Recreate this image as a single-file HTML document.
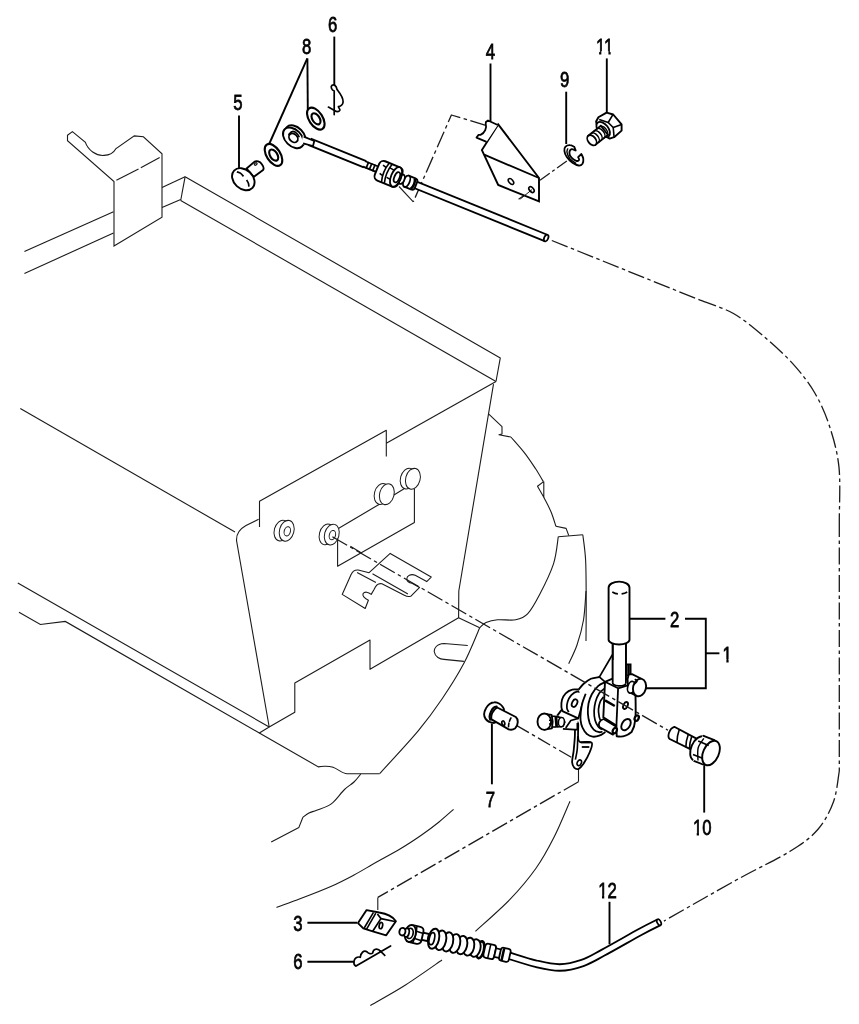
<!DOCTYPE html>
<html><head><meta charset="utf-8"><title>Parts diagram</title>
<style>html,body{margin:0;padding:0;background:#fff}body{width:859px;height:1024px;overflow:hidden;font-family:"Liberation Sans",sans-serif}svg{will-change:transform}svg text{font-family:"Liberation Sans",sans-serif;stroke:#000;stroke-width:0.75px}</style></head>
<body>
<svg width="859" height="1024" viewBox="0 0 859 1024" style="display:block;font-family:'Liberation Sans',sans-serif" fill="#000">
<path d="M67.5,135.2 L72.4,131.6 L85.4,142.4 C88,150 96,156 104,155.4 C110,155 114,152 115.7,148.9 L134.3,135.9 L143.4,136.8 L162,153.8 L162,217.3 L114,246 L114,181.5 L67.5,140.7 Z" fill="none" stroke="#1a1a1a" stroke-width="1.1"/>
<path d="M116.4,180.2 L138.5,169.1" fill="none" stroke="#1a1a1a" stroke-width="1.1" stroke-linecap="butt" stroke-linejoin="round"/>
<path d="M140.8,167.8 L159.7,157.4" fill="none" stroke="#1a1a1a" stroke-width="1.1" stroke-linecap="butt" stroke-linejoin="round"/>
<path d="M24.4,251.5 L113.5,211.8" fill="none" stroke="#1a1a1a" stroke-width="1.1" stroke-linecap="butt" stroke-linejoin="round"/>
<path d="M24.4,273.5 L113.5,233" fill="none" stroke="#1a1a1a" stroke-width="1.1" stroke-linecap="butt" stroke-linejoin="round"/>
<path d="M162,187.4 L185.1,176.7" fill="none" stroke="#1a1a1a" stroke-width="1.1" stroke-linecap="butt" stroke-linejoin="round"/>
<path d="M162,207.6 L180.7,199.6" fill="none" stroke="#1a1a1a" stroke-width="1.1" stroke-linecap="butt" stroke-linejoin="round"/>
<path d="M185.1,176.7 L180.7,200.5" fill="none" stroke="#1a1a1a" stroke-width="1.1" stroke-linecap="butt" stroke-linejoin="round"/>
<path d="M185.1,176.7 L500.3,357.9 L496,381.5" fill="none" stroke="#1a1a1a" stroke-width="1.1" stroke-linecap="butt" stroke-linejoin="round"/>
<path d="M180.7,200.5 L496,381.5" fill="none" stroke="#1a1a1a" stroke-width="1.1" stroke-linecap="butt" stroke-linejoin="round"/>
<path d="M496,381.5 L386.3,443.3" fill="none" stroke="#1a1a1a" stroke-width="1.1" stroke-linecap="butt" stroke-linejoin="round"/>
<path d="M386.3,456.5 L386.3,430.3 L259.5,501.3 L259.5,527" fill="none" stroke="#1a1a1a" stroke-width="1.1" stroke-linecap="butt" stroke-linejoin="round"/>
<path d="M20.3,408.6 L235,532" fill="none" stroke="#1a1a1a" stroke-width="1.1" stroke-linecap="butt" stroke-linejoin="round"/>
<path d="M258.6,519.2 L246,525.6 C239,529.5 236,534 236.6,541 L269.2,727" fill="none" stroke="#1a1a1a" stroke-width="1.1"/>
<path d="M493.5,384.2 L458.8,591 L458.6,618" fill="none" stroke="#1a1a1a" stroke-width="1.1" stroke-linecap="butt" stroke-linejoin="round"/>
<path d="M458.6,617.8 L370,669.3 L370,640 L294.8,683 L294.8,712.3 L269.2,727" fill="none" stroke="#1a1a1a" stroke-width="1.1" stroke-linecap="butt" stroke-linejoin="round"/>
<path d="M17.8,583 L269.2,727 L259.3,733" fill="none" stroke="#1a1a1a" stroke-width="1.1" stroke-linecap="butt" stroke-linejoin="round"/>
<path d="M19,612.3 L40.4,624.5 L65.3,621.4 L259.3,733 L318.4,766.9 C322,765.8 329,766 333,767.3 C338,769 342.5,773.7 347,773.7 L379.6,773.7" fill="none" stroke="#1a1a1a" stroke-width="1.1"/>
<path d="M379.6,773.7 C386.1,766.5 408,743.1 418.4,730.6 C428.8,718.1 434.4,710.2 442,699 C449.6,687.8 457.6,675.2 463.9,663.3 C470.2,651.4 477.1,633.6 479.7,627.7" fill="none" stroke="#1a1a1a" stroke-width="1.1" stroke-linecap="butt" stroke-linejoin="round"/>
<path d="M458.6,617.8 L479.7,627.7" fill="none" stroke="#1a1a1a" stroke-width="1.1" stroke-linecap="butt" stroke-linejoin="round"/>
<path d="M479.7,627.7 C480.8,626.8 483,623.8 486,622.5 C489,621.2 492.6,620.2 497.5,619.8 C502.4,619.3 510.7,620.8 515.7,619.8 C520.8,618.8 523.8,618 527.8,613.7 C531.8,609.4 535.6,602.3 539.9,594 C544.2,585.7 550.4,573.3 553.5,563.8 C556.6,554.2 557.5,541.2 558.3,536.7" fill="none" stroke="#1a1a1a" stroke-width="1.1" stroke-linecap="butt" stroke-linejoin="round"/>
<path d="M467.8,645.5 L444,643.5 C436,644 434,649 434.2,651.5 C435,657 440,659.4 444,659.4 L463.9,661.4" fill="none" stroke="#1a1a1a" stroke-width="1.1"/>
<path d="M271.2,842 L298.9,827.4 L302.9,817.3" fill="none" stroke="#1a1a1a" stroke-width="1.1" stroke-linecap="butt" stroke-linejoin="round"/>
<path d="M302.9,817.3 C303.9,816.6 306.7,814.2 309,813 C311.3,811.8 313,811.7 316.7,810.2 C320.4,808.7 326.7,807.4 331.3,803.9 C335.9,800.4 340.7,793.1 344.5,789.5 C348.3,785.9 351.3,784.6 354,782 C356.7,779.4 359.7,775.3 360.8,774" fill="none" stroke="#1a1a1a" stroke-width="1.1" stroke-linecap="butt" stroke-linejoin="round"/>
<path d="M488.8,414.1 L502,426.6 L502,434.1 L498.9,434.7 L510.9,437" fill="none" stroke="#1a1a1a" stroke-width="1.1" stroke-linecap="butt" stroke-linejoin="round"/>
<path d="M510.9,437 C513.2,439.7 520.6,447.8 524.7,453.1 C528.8,458.4 532.5,464.1 535.6,468.8 C538.7,473.6 542.1,479.5 543.4,481.6" fill="none" stroke="#1a1a1a" stroke-width="1.1" stroke-linecap="butt" stroke-linejoin="round"/>
<path d="M543.6,481.6 L537.5,486.3 L543.8,497.2 L543.8,481.6" fill="none" stroke="#1a1a1a" stroke-width="1.1" stroke-linecap="butt" stroke-linejoin="round"/>
<path d="M543.8,497.2 C545,499.8 549.3,507.6 551.3,512.5 C553.3,517.4 555.1,524 555.9,526.3" fill="none" stroke="#1a1a1a" stroke-width="1.1" stroke-linecap="butt" stroke-linejoin="round"/>
<path d="M555.9,526.3 L566.1,528.4 L568.8,535.6" fill="none" stroke="#1a1a1a" stroke-width="1.1" stroke-linecap="butt" stroke-linejoin="round"/>
<path d="M558.3,536.7 L582.8,534.7" fill="none" stroke="#1a1a1a" stroke-width="1.1" stroke-linecap="butt" stroke-linejoin="round"/>
<path d="M582.8,534.7 C583.3,538.9 585,549.1 585.6,560 C586.2,570.9 586.1,586.5 586.2,600 C586.3,613.5 586,634.2 586,641" fill="none" stroke="#1a1a1a" stroke-width="1.1" stroke-linecap="butt" stroke-linejoin="round"/>
<path d="M586,591 C585.6,595.8 585,611 583.5,620 C582,629 579.5,637.7 577,645 C574.5,652.3 570.1,660.6 568.7,663.7" fill="none" stroke="#1a1a1a" stroke-width="1.1" stroke-linecap="butt" stroke-linejoin="round"/>
<path d="M276.5,907.5 C280.4,906 290.9,902.3 300,898.8 C309.1,895.3 321.8,890.5 330.8,886.5 C339.8,882.5 346.4,879 354,875 C361.6,871 368.5,866.6 376.2,862.3 C383.9,858 392.4,853.5 400,849 C407.6,844.5 415.1,839.5 421.6,835 C428.1,830.5 433.7,826.3 439,822 C444.3,817.7 451.2,811.4 453.6,809.3" fill="none" stroke="#1a1a1a" stroke-width="1.1" stroke-linecap="butt" stroke-linejoin="round"/>
<path d="M370.3,1005.5 C376.2,1002.1 393.6,992.6 405.5,985 C417.4,977.4 435.9,964.2 442,960" fill="none" stroke="#1a1a1a" stroke-width="1.1" stroke-linecap="butt" stroke-linejoin="round"/>
<path d="M475.4,931.4 C481.2,926 500.1,909.7 510.2,899.2 C520.3,888.7 528.7,878.6 536,868.3 C543.3,858 548.3,848.5 554,837.3 C559.7,826.1 567.3,807.2 570,801.2" fill="none" stroke="#1a1a1a" stroke-width="1.1" stroke-linecap="butt" stroke-linejoin="round"/>
<path d="M342.2,594.4 L351.1,574.6 C352.4,571.4 355,569.7 358.2,570 L369.1,572.7 L390.2,553.4 L431.2,577.1 L426.7,581.6 L415.2,575.2 C410.7,573.6 406.8,575.9 406.8,579.1 C407.1,581.6 410,582.9 412,583.3 L419.6,587.4 L410.7,596.3 C408.1,597 406.2,596.3 404.3,595.3 L381.9,583.8 C378,582.9 375.5,586.1 374.2,589.3 L371.2,594.4 C368.4,591.9 364.6,591.2 363,593.8 C362.3,596.3 363.9,597.9 368.4,600.2 L365.2,608.5 Z" fill="none" stroke="#1a1a1a" stroke-width="1.1" stroke-linejoin="round" stroke-linecap="round"/>
<path d="M357.5,572.7 L375.5,582.3" fill="none" stroke="#1a1a1a" stroke-width="1.1" stroke-linejoin="round" stroke-linecap="round"/>
<path d="M372.9,573.9 L407.5,593.8" fill="none" stroke="#1a1a1a" stroke-width="1.1" stroke-linejoin="round" stroke-linecap="round"/>
<ellipse cx="281.5" cy="530.6" rx="7.2" ry="10.6" transform="rotate(15 281.5 530.6)" fill="#fff" stroke="#1a1a1a" stroke-width="1"/>
<ellipse cx="286.7" cy="530.8" rx="7.2" ry="10.6" transform="rotate(15 286.7 530.8)" fill="#fff" stroke="#1a1a1a" stroke-width="1"/>
<ellipse cx="287.3" cy="531.3" rx="3.1" ry="4.7" transform="rotate(15 287.3 531.3)" fill="none" stroke="#1a1a1a" stroke-width="1"/>
<ellipse cx="326.6" cy="534.4" rx="7.2" ry="10.6" transform="rotate(15 326.6 534.4)" fill="#fff" stroke="#1a1a1a" stroke-width="1"/>
<ellipse cx="331.8" cy="534.6" rx="7.2" ry="10.6" transform="rotate(15 331.8 534.6)" fill="#fff" stroke="#1a1a1a" stroke-width="1"/>
<ellipse cx="332.4" cy="535.1" rx="3.1" ry="4.7" transform="rotate(15 332.4 535.1)" fill="none" stroke="#1a1a1a" stroke-width="1"/>
<path d="M338.8,528.3 L379.8,504" fill="none" stroke="#1a1a1a" stroke-width="1.1" stroke-linecap="butt" stroke-linejoin="round"/>
<path d="M393.9,495 L404.1,488.7" fill="none" stroke="#1a1a1a" stroke-width="1.1" stroke-linecap="butt" stroke-linejoin="round"/>
<path d="M414.4,488.7 L414.4,522.5 L337.6,566.2 L337.6,538.6" fill="none" stroke="#1a1a1a" stroke-width="1.1" stroke-linecap="butt" stroke-linejoin="round"/>
<path d="M350.4,546.3 L361.9,553.2" fill="none" stroke="#1a1a1a" stroke-width="1.1" stroke-linecap="butt" stroke-linejoin="round"/>
<ellipse cx="381.6" cy="494" rx="7.2" ry="10.6" transform="rotate(15 381.6 494)" fill="#fff" stroke="#1a1a1a" stroke-width="1"/>
<ellipse cx="386.8" cy="494.2" rx="7.2" ry="10.6" transform="rotate(15 386.8 494.2)" fill="#fff" stroke="#1a1a1a" stroke-width="1"/>
<ellipse cx="407.7" cy="478.6" rx="7.2" ry="10.6" transform="rotate(15 407.7 478.6)" fill="#fff" stroke="#1a1a1a" stroke-width="1"/>
<ellipse cx="412.9" cy="478.8" rx="7.2" ry="10.6" transform="rotate(15 412.9 478.8)" fill="#fff" stroke="#1a1a1a" stroke-width="1"/>
<path d="M551.8,240.5 L700,300.1" fill="none" stroke="#1a1a1a" stroke-width="1.3" stroke-dasharray="17 3.5 3.5 3.5" stroke-linecap="butt" stroke-linejoin="round"/>
<path d="M700,300.1 C705.5,302.3 722.5,307.4 733,313.3 C743.5,319.2 752.9,327.1 762.8,335.5 C772.7,343.9 783.8,353.8 792.5,363.4 C801.2,373 808.6,382.5 814.8,393 C821,403.5 825.6,414.1 829.6,426.5 C833.6,438.9 837.4,451.8 839,467.4 C840.6,483 839.2,511.2 839.3,520" fill="none" stroke="#1a1a1a" stroke-width="1.3" stroke-dasharray="17 3.5 3.5 3.5" stroke-linecap="butt" stroke-linejoin="round"/>
<path d="M839.3,520 L839.3,771" fill="none" stroke="#1a1a1a" stroke-width="1.3" stroke-dasharray="17 3.5 3.5 3.5" stroke-linecap="butt" stroke-linejoin="round"/>
<path d="M839.3,771 C838.3,776.2 837,792.2 833.4,802 C829.8,811.8 824.9,821.3 817.8,829.5 C810.6,837.7 804.2,842.5 790.5,851 C776.8,859.5 756.9,868.6 735.8,880.3 C714.7,892 675.9,914.3 663.9,921.1" fill="none" stroke="#1a1a1a" stroke-width="1.3" stroke-dasharray="17 3.5 3.5 3.5" stroke-linecap="butt" stroke-linejoin="round"/>
<path d="M486.6,125.6 L451.4,115 L413.3,201.8" fill="none" stroke="#1a1a1a" stroke-width="1.3" stroke-dasharray="17 3.5 3.5 3.5" stroke-linecap="butt" stroke-linejoin="round"/>
<path d="M413.3,201.8 L399,186.5" fill="none" stroke="#1a1a1a" stroke-width="1.1" stroke-linecap="butt" stroke-linejoin="round"/>
<path d="M540,180.3 L566.9,161" fill="none" stroke="#1a1a1a" stroke-width="1.3" stroke-dasharray="12 3 3 3" stroke-linecap="butt" stroke-linejoin="round"/>
<path d="M516.8,725.6 L573.4,758.5" fill="none" stroke="#1a1a1a" stroke-width="1.3" stroke-dasharray="14 3.5 3.5 3.5" stroke-linecap="butt" stroke-linejoin="round"/>
<path d="M578.5,768 L578.5,781.7" fill="none" stroke="#1a1a1a" stroke-width="1.1" stroke-linecap="butt" stroke-linejoin="round"/>
<path d="M578.5,781.7 L377.8,897.4" fill="none" stroke="#1a1a1a" stroke-width="1.3" stroke-dasharray="17 3.5 3.5 3.5" stroke-linecap="butt" stroke-linejoin="round"/>
<path d="M377.8,897.4 L377.8,910" fill="none" stroke="#1a1a1a" stroke-width="1.1" stroke-linecap="butt" stroke-linejoin="round"/>
<path d="M531.4,190.3 L518.6,199.3" fill="none" stroke="#1a1a1a" stroke-width="1.1" stroke-linecap="butt" stroke-linejoin="round"/>
<path d="M307.4,58.4 L307.8,109" fill="none" stroke="#000" stroke-width="1.9" stroke-linecap="butt" stroke-linejoin="miter"/>
<path d="M307.3,58.4 L269.4,143.5" fill="none" stroke="#000" stroke-width="1.9" stroke-linecap="butt" stroke-linejoin="miter"/>
<path d="M239,115.5 L239,168" fill="none" stroke="#000" stroke-width="1.9" stroke-linecap="butt" stroke-linejoin="miter"/>
<path d="M334.3,36.6 L334.3,85" fill="none" stroke="#000" stroke-width="1.9" stroke-linecap="butt" stroke-linejoin="miter"/>
<path d="M490.5,63.5 L490.5,121.4" fill="none" stroke="#000" stroke-width="1.9" stroke-linecap="butt" stroke-linejoin="miter"/>
<path d="M566.2,91.7 L566.2,144" fill="none" stroke="#000" stroke-width="1.9" stroke-linecap="butt" stroke-linejoin="miter"/>
<path d="M606.8,58.4 L606.8,112.5" fill="none" stroke="#000" stroke-width="1.9" stroke-linecap="butt" stroke-linejoin="miter"/>
<path d="M630,618.8 L665.4,618.8" fill="none" stroke="#000" stroke-width="1.9" stroke-linecap="butt" stroke-linejoin="miter"/>
<path d="M685,618.8 L705.8,618.8 L705.8,688.3 L645.9,688.3" fill="none" stroke="#000" stroke-width="1.9" stroke-linecap="butt" stroke-linejoin="miter"/>
<path d="M705.8,653.3 L719.4,653.3" fill="none" stroke="#000" stroke-width="1.9" stroke-linecap="butt" stroke-linejoin="miter"/>
<path d="M704.2,765.8 L704.2,812.6" fill="none" stroke="#000" stroke-width="1.9" stroke-linecap="butt" stroke-linejoin="miter"/>
<path d="M491.9,723.5 L491.9,784.3" fill="none" stroke="#000" stroke-width="1.9" stroke-linecap="butt" stroke-linejoin="miter"/>
<path d="M609.5,901.8 L609.5,944.3" fill="none" stroke="#000" stroke-width="1.9" stroke-linecap="butt" stroke-linejoin="miter"/>
<path d="M307.4,922.8 L357,922.8" fill="none" stroke="#000" stroke-width="1.9" stroke-linecap="butt" stroke-linejoin="miter"/>
<path d="M307.4,961.7 L354.3,961.7" fill="none" stroke="#000" stroke-width="1.9" stroke-linecap="butt" stroke-linejoin="miter"/>
<text transform="translate(306.6 53.5) scale(0.755 1)" text-anchor="middle" font-size="22.2">8</text>
<text transform="translate(332.7 32.3) scale(0.755 1)" text-anchor="middle" font-size="22.2">6</text>
<text transform="translate(238 110) scale(0.755 1)" text-anchor="middle" font-size="22.2">5</text>
<text transform="translate(490.4 58.9) scale(0.755 1)" text-anchor="middle" font-size="22.2">4</text>
<text transform="translate(564.7 86.6) scale(0.755 1)" text-anchor="middle" font-size="22.2">9</text>
<text transform="translate(604.6 53.8) scale(0.755 1)" text-anchor="middle" font-size="22.2">11</text>
<rect x="595.42" y="51.14" width="3.69" height="4.46" fill="#fff"/>
<rect x="601.35" y="51.14" width="3.56" height="4.46" fill="#fff"/>
<rect x="604.74" y="51.14" width="3.69" height="4.46" fill="#fff"/>
<rect x="610.67" y="51.14" width="3.56" height="4.46" fill="#fff"/>
<text transform="translate(674.6 626.5) scale(0.755 1)" text-anchor="middle" font-size="22.2">2</text>
<text transform="translate(727.2 661.8) scale(0.755 1)" text-anchor="middle" font-size="22.2">1</text>
<rect x="722.68" y="659.14" width="3.69" height="4.46" fill="#fff"/>
<rect x="728.61" y="659.14" width="3.56" height="4.46" fill="#fff"/>
<text transform="translate(702.2 835.2) scale(0.755 1)" text-anchor="middle" font-size="22.2">10</text>
<rect x="693.02" y="832.54" width="3.69" height="4.46" fill="#fff"/>
<rect x="698.95" y="832.54" width="3.56" height="4.46" fill="#fff"/>
<text transform="translate(490.3 807) scale(0.755 1)" text-anchor="middle" font-size="22.2">7</text>
<text transform="translate(607.5 898) scale(0.755 1)" text-anchor="middle" font-size="22.2">12</text>
<rect x="598.32" y="895.34" width="3.69" height="4.46" fill="#fff"/>
<rect x="604.25" y="895.34" width="3.56" height="4.46" fill="#fff"/>
<text transform="translate(298 930.9) scale(0.755 1)" text-anchor="middle" font-size="22.2">3</text>
<text transform="translate(298 969.2) scale(0.755 1)" text-anchor="middle" font-size="22.2">6</text>
<ellipse cx="273.5" cy="154.9" rx="12.3" ry="6.8" transform="rotate(57 273.5 154.9)" fill="#fff" stroke="#000" stroke-width="2.1"/>
<ellipse cx="273.7" cy="155.1" rx="6.2" ry="3.6" transform="rotate(57 273.7 155.1)" fill="none" stroke="#000" stroke-width="2.1"/>
<ellipse cx="315.8" cy="118.6" rx="12.3" ry="6.8" transform="rotate(57 315.8 118.6)" fill="#fff" stroke="#000" stroke-width="2.1"/>
<ellipse cx="316" cy="118.8" rx="6.2" ry="3.6" transform="rotate(57 316 118.8)" fill="none" stroke="#000" stroke-width="2.1"/>
<g transform="translate(340 154.1) rotate(22.15)">
<line x1="-33" y1="0" x2="27" y2="0" stroke="#000" stroke-width="8.6"/>
<line x1="-33.5" y1="0" x2="27" y2="0" stroke="#fff" stroke-width="5"/>
<line x1="26" y1="0" x2="42" y2="0" stroke="#000" stroke-width="7.5"/>
<line x1="25.5" y1="0" x2="42" y2="0" stroke="#fff" stroke-width="4.1"/>
<line x1="29.5" y1="-3.6" x2="29.5" y2="3.6" stroke="#000" stroke-width="1.7"/>
<line x1="33" y1="-3.6" x2="33" y2="3.6" stroke="#000" stroke-width="1.7"/>
<line x1="36.5" y1="-3.6" x2="36.5" y2="3.6" stroke="#000" stroke-width="1.7"/>
<line x1="40" y1="-3.6" x2="40" y2="3.6" stroke="#000" stroke-width="1.7"/>
<line x1="80" y1="0" x2="223" y2="0" stroke="#000" stroke-width="8.7"/>
<line x1="79.5" y1="0" x2="223" y2="0" stroke="#fff" stroke-width="5.1"/>
<ellipse cx="222.6" cy="0" rx="2" ry="3.5" fill="#fff" stroke="#000" stroke-width="1.8"/>
<rect x="70" y="-6" width="12" height="12" rx="3" fill="#fff" stroke="#000" stroke-width="1.9"/>
<path d="M78.5,-5.5 C80.5,-3 80.5,3 78.5,5.5" fill="none" stroke="#000" stroke-width="2.6"/>
<ellipse cx="72" cy="0" rx="3" ry="6" fill="#fff" stroke="#000" stroke-width="1.8"/>
<ellipse cx="66.5" cy="0" rx="2.8" ry="5" fill="#fff" stroke="#000" stroke-width="1.8"/>
<rect x="40" y="-10.4" width="25" height="20.8" rx="4.5" fill="#fff" stroke="#000" stroke-width="1.9"/>
<ellipse cx="60.5" cy="0" rx="5" ry="10.4" fill="#fff" stroke="#000" stroke-width="1.8"/>
<ellipse cx="61.5" cy="0" rx="2.6" ry="5.4" fill="#fff" stroke="#000" stroke-width="1.8"/>
<path d="M49,-10.4 C47,-4 47,4 49,10.4 M52,-10 C50.3,-4 50.3,4 52,10 M44,-6 L48,-5 M44,3 L48,4 M52,-6 L56,-5.5 M52,4 L56,4.5" fill="none" stroke="#000" stroke-width="1.6"/>
</g>
<ellipse cx="295.4" cy="135.7" rx="12.2" ry="8.1" transform="rotate(45 295.4 135.7)" fill="#fff" stroke="#000" stroke-width="1.9"/>
<ellipse cx="293.3" cy="137.9" rx="12.2" ry="8.1" transform="rotate(45 293.3 137.9)" fill="#fff" stroke="#000" stroke-width="1.9"/>
<ellipse cx="293.4" cy="137.9" rx="5" ry="3.8" transform="rotate(45 293.4 137.9)" fill="none" stroke="#000" stroke-width="1.8"/>
<path d="M288.4,134.9 C289.1,134.3 291.1,131.6 292.5,131.4 C293.9,131.1 295.9,132.6 297,133.6 C298.2,134.6 299,136.7 299.4,137.3" fill="none" stroke="#000" stroke-width="1.6" stroke-linecap="butt" stroke-linejoin="round"/>
<path d="M302.7,136.1 L314.3,140.8 L313,146 L301.5,144.1 Z" fill="#fff" stroke="none"/>
<path d="M303.7,136.7 L314.3,141 L313,146 L303.1,143.3" fill="none" stroke="#000" stroke-width="1.8" stroke-linecap="butt" stroke-linejoin="round"/>
<path d="M246.6,168.5 L254.3,161.9 C256.4,160.3 259.9,161.4 261.7,164 C263.5,166.4 264.1,168.5 263.1,169.9 L253.6,176.9 Z" fill="#fff" stroke="#000" stroke-width="1.9" stroke-linejoin="round"/>
<ellipse cx="255.7" cy="164" rx="1.5" ry="1" transform="rotate(-40 255.7 164)" fill="none" stroke="#1a1a1a" stroke-width="1.2"/>
<ellipse cx="243.3" cy="179.2" rx="12.6" ry="9.5" transform="rotate(43 243.3 179.2)" fill="#fff" stroke="#000" stroke-width="1.9"/>
<path d="M236.9,171.8 C237.5,172.1 239.6,172.6 240.7,173.4 C241.8,174.2 243,175.9 243.5,176.4" fill="none" stroke="#000" stroke-width="1.7" stroke-linecap="butt" stroke-linejoin="round"/>
<path d="M246.6,180 C246.9,180.6 248,182.1 248.4,183.2 C248.8,184.3 248.8,186.1 248.9,186.7" fill="none" stroke="#000" stroke-width="1.7" stroke-linecap="butt" stroke-linejoin="round"/>
<path d="M334.2,114.6 L334.2,91.1 C331.6,89.9 330.2,86.6 332.1,85.2 C334,84.1 336.3,85.7 337,89.4 C339.6,92.7 343.3,96.9 343.1,102 C342.8,104.8 340.5,106.2 338.4,106.7 C338.6,108.5 340.5,109 339.8,110.4 C338.6,112.3 335.8,111.3 334,110.2 L328.4,107.1" fill="none" stroke="#000" stroke-width="1.7" stroke-linejoin="round" stroke-linecap="round"/>
<path d="M498.2,124.4 L539,178 L539,201.3 L498.2,185 L481.9,150.1 Z" fill="#fff" stroke="#000" stroke-width="1.9" stroke-linecap="butt" stroke-linejoin="miter"/>
<path d="M484.2,154.7 L539,178" fill="none" stroke="#000" stroke-width="1.8" stroke-linecap="butt" stroke-linejoin="round"/>
<path d="M497.8,125 L488,120.5 L485.9,122 L485.7,124 C487,127.5 484.9,133 480.5,134.8 L478.6,134.8 L476.5,137.6 L486.6,141.8" fill="#fff" stroke="#000" stroke-width="1.8" stroke-linejoin="round"/>
<path d="M532,189.6 L520.3,199" fill="none" stroke="#1a1a1a" stroke-width="1" stroke-linecap="butt" stroke-linejoin="round"/>
<ellipse cx="511" cy="181.5" rx="2" ry="3.4" transform="rotate(-40 511 181.5)" fill="none" stroke="#000" stroke-width="1.6"/>
<ellipse cx="531.5" cy="189.6" rx="2" ry="3.4" transform="rotate(-40 531.5 189.6)" fill="none" stroke="#000" stroke-width="1.6"/>
<path d="M574.3,146.8 C573.6,146.5 571.4,145.1 569.9,145.1 C568.4,145 566.4,145.7 565.5,146.6 C564.6,147.6 564.1,149.1 564.4,150.8 C564.6,152.6 565.4,155.1 566.8,157.1 C568.1,159.1 570.5,161.3 572.5,162.7 C574.5,164.1 577.2,165.3 578.8,165.5 C580.5,165.7 581.7,164.8 582.5,163.7 C583.2,162.6 583.5,160.3 583.3,158.7 C583.1,157.1 581.7,154.7 581.4,154 L578.1,157.1 C578.3,157.6 579.4,159.3 579.1,159.9 C578.8,160.5 577.5,161.2 576.2,160.8 C574.9,160.4 572.6,158.9 571.5,157.6 C570.3,156.3 569.4,154.3 569.4,152.9 C569.4,151.5 570.4,149.6 571.5,149.2 C572.5,148.8 575,150.3 575.7,150.5 Z" fill="#fff" stroke="#000" stroke-width="1.8" stroke-linejoin="round"/>
<path d="M567.8,148.4 C567.7,149.1 566.6,150.7 567,152.4 C567.3,154.1 568.4,156.8 569.9,158.7 C571.4,160.5 575.1,162.8 576.2,163.6" fill="none" stroke="#000" stroke-width="1.4" stroke-linecap="butt" stroke-linejoin="round"/>
<path d="M598.4,117.3 L606.6,112.6 L613.2,114.5 L621.6,124.4 L621.6,130.6 L614.1,137.2 L609.7,138.6 L605.5,136.1 L597.2,126.7 L596.1,121.5 Z" fill="#fff" stroke="#000" stroke-width="1.9" stroke-linecap="butt" stroke-linejoin="round"/>
<path d="M599.2,119.4 L608.2,122.5 L612.9,114.7" fill="none" stroke="#000" stroke-width="1.6" stroke-linecap="butt" stroke-linejoin="round"/>
<path d="M608.2,122.5 L613.2,127.5 L621.6,124.4" fill="none" stroke="#000" stroke-width="1.6" stroke-linecap="butt" stroke-linejoin="round"/>
<path d="M613.2,127.5 L614.1,137.2" fill="none" stroke="#000" stroke-width="1.6" stroke-linecap="butt" stroke-linejoin="round"/>
<ellipse cx="603.2" cy="129.5" rx="5.2" ry="8.8" transform="rotate(-38 603.2 129.5)" fill="#fff" stroke="#000" stroke-width="1.8"/>
<g transform="translate(591.9 140.3) rotate(-38.5)">
<rect x="0" y="-5.8" width="16" height="11.6" fill="#fff" stroke="#000" stroke-width="1.8"/>
<path d="M3.6,-5.8 A3.6 5.8 0 0 1 3.6,5.8" fill="none" stroke="#000" stroke-width="1.5"/>
<path d="M7.2,-5.8 A3.6 5.8 0 0 1 7.2,5.8" fill="none" stroke="#000" stroke-width="1.5"/>
<path d="M10.8,-5.8 A3.6 5.8 0 0 1 10.8,5.8" fill="none" stroke="#000" stroke-width="1.5"/>
<path d="M14.4,-5.8 A3.6 5.8 0 0 1 14.4,5.8" fill="none" stroke="#000" stroke-width="1.5"/>
<ellipse cx="0" cy="0" rx="3.8" ry="5.8" fill="#fff" stroke="#000" stroke-width="1.8"/>
</g>
<path d="M608.6,587.7 L608.6,639.8 A10.45 4.7 0 0 0 629.5,639.8 L629.5,587.7 A10.45 6.1 0 0 0 608.6,587.7 Z" fill="#fff" stroke="#000" stroke-width="1.9"/>
<path d="M612.3,592 Q615,593.7 617.9,593.9 M621.6,593.9 Q625,593.5 627.2,592" fill="none" stroke="#000" stroke-width="1.6"/>
<path d="M612.7,644 L612.7,684" fill="none" stroke="#000" stroke-width="1.8" stroke-linecap="butt" stroke-linejoin="round"/>
<path d="M625.9,644 L625.9,686" fill="none" stroke="#000" stroke-width="1.8" stroke-linecap="butt" stroke-linejoin="round"/>
<path d="M612.4,654.7 L599.3,677.1" fill="none" stroke="#000" stroke-width="1.7" stroke-linecap="butt" stroke-linejoin="round"/>
<path d="M575.4,723.3 C574.8,725.7 575.1,733 574.8,737.6 C574.5,742.3 574,747.2 573.6,751.3 C573.1,755.3 572,759.1 572.1,761.9 C572.2,764.6 573.1,766.4 574.2,767.6 C575.3,768.8 577.2,769.4 578.7,768.8 C580.2,768.2 581.4,766.9 583.3,764.1 C585.1,761.3 588.4,755.6 589.8,752 C591.2,748.4 593.2,744.2 591.6,742.5 C590,740.8 582.2,742.9 579.9,741.9 C577.7,740.8 578.4,739.2 578.1,736.1 C577.8,733 578.6,725.4 578.1,723.3 C577.7,721.1 576,720.9 575.4,723.3 Z" fill="#fff" stroke="#000" stroke-width="1.8" stroke-linejoin="round"/>
<path d="M577.8,736.1 C577.7,738.4 577.6,745.8 577.2,749.7 C576.8,753.7 575.7,757.9 575.4,759.6" fill="none" stroke="#000" stroke-width="1.6" stroke-linecap="butt" stroke-linejoin="round"/>
<path d="M580.7,742.5 L590.8,742.5" fill="none" stroke="#000" stroke-width="1.8" stroke-linecap="butt" stroke-linejoin="round"/>
<path d="M581.8,747 L589.3,747" fill="none" stroke="#000" stroke-width="1.8" stroke-linecap="butt" stroke-linejoin="round"/>
<ellipse cx="579.3" cy="762.8" rx="2" ry="3" transform="rotate(25 579.3 762.8)" fill="none" stroke="#000" stroke-width="1.6"/>
<path d="M562.2,709.1 L557.3,715.6 L562.9,728.8 L574.6,729.6 L577.4,729.6 L577.4,723.1 L578.3,718.4 L568.5,711.9 Z" fill="#fff" stroke="none"/>
<path d="M562.2,709.1 L557.3,715.6" fill="none" stroke="#000" stroke-width="1.8" stroke-linecap="butt" stroke-linejoin="round"/>
<path d="M562.9,728.8 L574.6,729.6 L577.4,729.6 L577.4,723.1" fill="none" stroke="#000" stroke-width="1.8" stroke-linecap="butt" stroke-linejoin="round"/>
<path d="M568.5,711.9 L578.3,718.4" fill="none" stroke="#000" stroke-width="1.8" stroke-linecap="butt" stroke-linejoin="round"/>
<path d="M578.3,718.4 L570.8,720.5 L565.7,727.9" fill="none" stroke="#000" stroke-width="1.7" stroke-linecap="butt" stroke-linejoin="round"/>
<path d="M556.4,716.4 L562.9,718.4 L564.8,722.1 L562.9,726.3 L556.9,727 Z" fill="#fff" stroke="#000" stroke-width="1.7" stroke-linejoin="round"/>
<ellipse cx="561.4" cy="722.1" rx="3" ry="4.6" transform="rotate(5 561.4 722.1)" fill="#fff" stroke="#000" stroke-width="1.6"/>
<path d="M555.7,716.1 L556.6,727" fill="none" stroke="#000" stroke-width="2.6" stroke-linecap="butt" stroke-linejoin="round"/>
<path d="M551.8,716.3 L555.7,716.3" fill="none" stroke="#000" stroke-width="1.6" stroke-linecap="butt" stroke-linejoin="round"/>
<path d="M552.1,727 L556.4,727" fill="none" stroke="#000" stroke-width="1.6" stroke-linecap="butt" stroke-linejoin="round"/>
<path d="M544.3,713.8 L551.6,714.9 L552.7,721.7 L551.9,728.4 L544.3,729.6 Z" fill="#fff" stroke="#000" stroke-width="1.8" stroke-linejoin="round"/>
<ellipse cx="544.3" cy="721.7" rx="6.8" ry="8.2" transform="rotate(0 544.3 721.7)" fill="#fff" stroke="#000" stroke-width="1.9"/>
<path d="M549,720.3 L552.2,720.3" fill="none" stroke="#000" stroke-width="1.5" stroke-linecap="butt" stroke-linejoin="round"/>
<path d="M549,724 L552.2,724" fill="none" stroke="#000" stroke-width="1.5" stroke-linecap="butt" stroke-linejoin="round"/>
<path d="M562.9,711.4 C562.7,710.7 561.6,709.2 561.4,707.2 C561.3,705.3 561.3,702.1 562,699.8 C562.7,697.5 564,695 565.7,693.3 C567.4,691.6 570.1,690.2 572.2,689.6 C574.4,688.9 577.5,689.6 578.6,689.6 L585.3,693.5 L578.3,718.4 Z" fill="#fff" stroke="#000" stroke-width="1.8" stroke-linejoin="round"/>
<path d="M584.3,693.3 C583.1,693 579.1,691.3 576.9,691.6 C574.7,691.9 572.9,693.5 571.3,695.1 C569.8,696.8 568.3,699.5 567.6,701.7 C566.9,703.8 566.8,706.4 566.9,708.2 C567.1,709.9 568.4,711.4 568.7,712.1" fill="none" stroke="#000" stroke-width="1.7" stroke-linecap="butt" stroke-linejoin="round"/>
<ellipse cx="574.6" cy="703.1" rx="2.5" ry="4" transform="rotate(25 574.6 703.1)" fill="none" stroke="#000" stroke-width="1.8"/>
<path d="M578.6,689.6 C579.4,688.6 581.4,685.8 583.4,684 C585.5,682.2 588.2,680 590.9,678.8 C593.5,677.7 596.8,676.4 599.2,677 C601.7,677.5 604.7,681.3 605.8,682.1 L609.5,716.6 L605.5,732 L594.6,736.9 Z" fill="#fff" stroke="none"/>
<path d="M585.7,693.7 C581.9,694.5 583.3,699.6 582.5,702.6 C581.7,705.6 581.1,709 580.8,711.9 C580.5,714.8 580.3,717.6 580.6,720.3 C580.9,722.9 581.4,725.4 582.5,727.7 C583.6,730.1 585.4,732.8 587.1,734.2 C588.8,735.7 590.7,736.4 592.7,736.7 C594.7,736.9 597.1,736.5 599.2,735.7 C601.4,735 604.4,738.3 605.5,732 C606.6,725.7 609.1,704.3 605.8,697.9 C602.5,691.6 589.6,693 585.7,693.7 Z" fill="#fff" stroke="none"/>
<path d="M578.6,689.6 C579.4,688.6 581.4,685.8 583.4,684 C585.5,682.2 588.2,680 590.9,678.8 C593.5,677.7 597.8,677.3 599.2,677" fill="none" stroke="#000" stroke-width="1.8" stroke-linecap="butt" stroke-linejoin="round"/>
<path d="M585.7,693.7 C585.2,695.2 583.3,699.6 582.5,702.6 C581.7,705.6 581.1,709 580.8,711.9 C580.5,714.8 580.3,717.6 580.6,720.3 C580.9,722.9 581.4,725.4 582.5,727.7 C583.6,730.1 585.4,732.8 587.1,734.2 C588.8,735.7 590.7,736.4 592.7,736.7 C594.7,736.9 597.1,736.5 599.2,735.7 C601.4,735 604.4,732.6 605.5,732" fill="none" stroke="#000" stroke-width="1.8" stroke-linecap="butt" stroke-linejoin="round"/>
<path d="M604.8,682.3 C603.7,682.9 600.5,683.8 598.3,685.8 C596.1,687.8 593.4,691.3 591.8,694.2 C590.2,697.2 589.2,700.3 588.5,703.5 C587.9,706.8 587.7,710.5 587.9,713.8 C588.1,717 588.8,720.4 589.7,723.1 C590.7,725.7 592.1,728.1 593.7,729.6 C595.2,731.1 597.8,731.9 599.2,732.2 C600.7,732.5 602,731.7 602.5,731.6" fill="none" stroke="#000" stroke-width="1.8" stroke-linecap="butt" stroke-linejoin="round"/>
<path d="M604.4,688.6 C603.5,689.4 600.7,691.1 599.2,693.3 C597.8,695.5 596.4,698.7 595.5,701.7 C594.7,704.6 594.2,707.9 594.1,711 C594,714.1 594.4,717.6 595.1,720.3 C595.8,722.9 597.2,725.2 598.3,726.8 C599.5,728.3 601.4,729.1 602,729.6" fill="none" stroke="#000" stroke-width="1.7" stroke-linecap="butt" stroke-linejoin="round"/>
<path d="M603.4,697 C602.9,697.8 601,699.6 600.2,701.7 C599.4,703.7 598.7,706.6 598.5,709.1 C598.3,711.6 598.9,714.7 599.2,716.6 C599.6,718.4 600.2,719.7 600.4,720.3" fill="none" stroke="#000" stroke-width="1.7" stroke-linecap="butt" stroke-linejoin="round"/>
<path d="M603.6,719 L615.9,726.6 L612.9,734.6 L599.7,727.2 C597.8,724.6 599,720.4 603.6,719 Z" fill="#fff" stroke="#000" stroke-width="1.8" stroke-linejoin="round"/>
<path d="M605,681.8 L612,678.8 L626,679 L633.4,683.6 L635.5,695.7 C636,717.1 636,724.6 631.6,732 C626,736.7 622.2,737.2 616.7,736.2 L616.4,725.5 L603.3,717.3 Z" fill="#fff" stroke="#000" stroke-width="1.9" stroke-linejoin="round"/>
<path d="M605,681.8 L618.1,688.3 L633.4,683.6" fill="none" stroke="#000" stroke-width="1.8" stroke-linecap="butt" stroke-linejoin="round"/>
<path d="M618.1,688.3 L616.4,725.5" fill="none" stroke="#000" stroke-width="1.8" stroke-linecap="butt" stroke-linejoin="round"/>
<path d="M605,700.4 L614.8,706" fill="none" stroke="#000" stroke-width="2.4" stroke-linecap="butt" stroke-linejoin="round"/>
<ellipse cx="625.5" cy="705.5" rx="2.1" ry="3.7" transform="rotate(25 625.5 705.5)" fill="none" stroke="#000" stroke-width="1.8"/>
<ellipse cx="626" cy="724.6" rx="4" ry="6.2" transform="rotate(33 626 724.6)" fill="none" stroke="#000" stroke-width="1.9"/>
<ellipse cx="614.8" cy="730.6" rx="1.9" ry="2.8" transform="rotate(25 614.8 730.6)" fill="#fff" stroke="#000" stroke-width="2.2"/>
<ellipse cx="636.7" cy="718.1" rx="1.9" ry="2.8" transform="rotate(25 636.7 718.1)" fill="#fff" stroke="#000" stroke-width="2.3"/>
<path d="M612.7,660 L612.7,682.5 A6.6 3 0 0 0 625.9,683 L625.9,660 Z" fill="#fff" stroke="none"/>
<path d="M612.7,644 L612.7,682.8" fill="none" stroke="#000" stroke-width="1.8" stroke-linecap="butt" stroke-linejoin="round"/>
<path d="M625.9,644 L625.9,683.3" fill="none" stroke="#000" stroke-width="1.8" stroke-linecap="butt" stroke-linejoin="round"/>
<path d="M612.7,682.5 A6.6 3 0 0 0 625.9,683.3" fill="none" stroke="#000" stroke-width="1.7"/>
<path d="M599,676.6 L605,681.8" fill="none" stroke="#000" stroke-width="1.7" stroke-linecap="butt" stroke-linejoin="round"/>
<path d="M626.5,664.3 L626.5,674.8 L630.6,676.6 L630.6,664.3 Z" fill="#fff" stroke="#000" stroke-width="1.8"/>
<path d="M628.6,664.3 L628.6,674.3" fill="none" stroke="#000" stroke-width="2.4" stroke-linecap="butt" stroke-linejoin="round"/>
<path d="M628.8,674.3 L632,674.1 L640.9,678.5 L637.1,696.2 L630.8,692.9 L628,688.3 L627.6,679 Z" fill="#fff" stroke="#000" stroke-width="1.8" stroke-linejoin="round"/>
<ellipse cx="631.3" cy="687.3" rx="3.6" ry="6" transform="rotate(15 631.3 687.3)" fill="#fff" stroke="#000" stroke-width="1.7"/>
<ellipse cx="639.5" cy="687.5" rx="6.4" ry="8.9" transform="rotate(15 639.5 687.5)" fill="#fff" stroke="#000" stroke-width="1.9"/>
<path d="M634.8,679.2 C635.2,679.5 637.4,680.3 637.1,681.3 C636.9,682.3 634,684.4 633.4,685" fill="none" stroke="#000" stroke-width="1.5" stroke-linecap="butt" stroke-linejoin="round"/>
<path d="M332.4,536.8 L668,730.3" fill="none" stroke="#1a1a1a" stroke-width="1.3" stroke-dasharray="17 3.5 3.5 3.5" stroke-linecap="butt" stroke-linejoin="round"/>
<path d="M674.3,726.8 L696.5,738.6 L690.3,749.1 L669.7,739 C667,736.7 669.1,728.5 674.3,726.8 Z" fill="#fff" stroke="#000" stroke-width="1.8" stroke-linejoin="round"/>
<path d="M679.2,729.8 C677.8,733.8 677,738.4 677,742.1" fill="none" stroke="#000" stroke-width="1.6" stroke-linejoin="round" stroke-linecap="round"/>
<path d="M688.2,734.7 C686.8,738.4 685.9,743.1 685.9,746.8" fill="none" stroke="#000" stroke-width="1.6" stroke-linejoin="round" stroke-linecap="round"/>
<path d="M691.6,736.7 C690.3,740.7 689.5,744.8 689.5,748.4" fill="none" stroke="#000" stroke-width="1.6" stroke-linejoin="round" stroke-linecap="round"/>
<ellipse cx="699" cy="748.5" rx="7.8" ry="13" transform="rotate(24 699 748.5)" fill="#fff" stroke="#000" stroke-width="1.9"/>
<path d="M702.5,735.5 L715.1,740.2 L705.2,765.8 L693,760.8 Z" fill="#fff" stroke="none"/>
<path d="M702.9,735.7 L715.1,740.4" fill="none" stroke="#000" stroke-width="1.8" stroke-linecap="butt" stroke-linejoin="round"/>
<path d="M693.8,760.8 L705.4,765.5" fill="none" stroke="#000" stroke-width="1.8" stroke-linecap="butt" stroke-linejoin="round"/>
<ellipse cx="711" cy="753" rx="7.8" ry="13" transform="rotate(24 711 753)" fill="#fff" stroke="#000" stroke-width="1.9"/>
<path d="M698.2,741 L708.7,745.6" fill="none" stroke="#000" stroke-width="1.6" stroke-linecap="butt" stroke-linejoin="round"/>
<path d="M693,754.5 L703.1,758.6" fill="none" stroke="#000" stroke-width="1.6" stroke-linecap="butt" stroke-linejoin="round"/>
<path d="M703.8,738.4 C702.9,740 699.2,744 698.2,747.7 C697.2,751.4 698,758.4 698,760.5" fill="none" stroke="#000" stroke-width="1.4" stroke-linecap="butt" stroke-linejoin="round"/>
<path d="M484.1,714.2 C484.2,712.5 484.9,710.1 485.9,708.4 C486.8,706.7 488.2,705 489.6,704 C491,703 492.6,702.3 494.3,702.3 C495.9,702.2 498.1,702.9 499.5,703.7 C501,704.6 502.3,706.1 503,707.2 C503.8,708.3 504.2,709.5 503.9,710.4 C503.6,711.4 502.4,711.7 501.3,713 C500.2,714.4 498.2,716.7 497.2,718.3 C496.2,719.8 496.1,721.6 495.5,722.4 C494.8,723.1 494.2,723 493.1,722.9 C492.1,722.8 490.3,722.5 489.1,721.8 C487.8,721.1 486.4,720.1 485.6,718.9 C484.7,717.6 484.1,716 484.1,714.2 Z" fill="#fff" stroke="#000" stroke-width="1.9"/>
<path d="M497.2,707.5 L515.8,717 C518.7,719.4 518.2,725.3 515.3,728.2 C512.9,729.9 510,729.9 508.3,729.1 L491.5,719.4 C490.5,715.4 492.6,710.1 497.2,707.5 Z" fill="#fff" stroke="#000" stroke-width="1.9" stroke-linejoin="round" stroke-linecap="round"/>
<path d="M497.5,706.5 C496.9,706.7 494.9,706.8 493.8,707.7 C492.7,708.6 491.6,710.4 490.9,711.9 C490.2,713.4 489.7,715.1 489.6,716.5 C489.6,718 490.4,719.9 490.5,720.6" fill="none" stroke="#000" stroke-width="2.2" stroke-linecap="butt" stroke-linejoin="round"/>
<path d="M510.9,718 C509.1,721.2 508.3,724.7 508.6,727.9" fill="none" stroke="#000" stroke-width="1.6" stroke-linejoin="round" stroke-linecap="round" stroke-dasharray="3.5 2"/>
<ellipse cx="503.3" cy="723.2" rx="1.4" ry="2.3" transform="rotate(-15 503.3 723.2)" fill="none" stroke="#000" stroke-width="1.7"/>
<path d="M358,923.1 L366.6,910.1 L379.2,912.5 C387.4,913.7 393.1,917 395.9,921.2 L386.2,935.3 L372.7,931.3 L363.3,928.4 Z" fill="#fff" stroke="#000" stroke-width="1.9" stroke-linejoin="round"/>
<path d="M373.5,912.3 L364.2,928" fill="none" stroke="#000" stroke-width="1.6" stroke-linecap="butt" stroke-linejoin="round"/>
<path d="M375.8,913.1 L366.6,929.2" fill="none" stroke="#000" stroke-width="1.6" stroke-linecap="butt" stroke-linejoin="round"/>
<path d="M377.4,913.9 L380.9,918.6 L372.7,931.3" fill="none" stroke="#000" stroke-width="1.7" stroke-linecap="butt" stroke-linejoin="round"/>
<path d="M380.9,918.6 L394.9,921.5" fill="none" stroke="#000" stroke-width="1.7" stroke-linecap="butt" stroke-linejoin="round"/>
<ellipse cx="380.9" cy="925.6" rx="1.7" ry="3.2" transform="rotate(12 380.9 925.6)" fill="none" stroke="#000" stroke-width="1.7"/>
<path d="M390.6,945.9 L356,966.1 C354.4,965.5 353.6,963.5 354,961.4 C354.4,958.2 357.2,956.3 360.3,957.3 C360.5,953.3 363.7,949.6 367.2,952 C368.6,953.8 371.5,954.3 372.7,953 C373.1,949.4 377.2,947 380.9,951.8" fill="none" stroke="#000" stroke-width="1.7" stroke-linejoin="round" stroke-linecap="round"/>
<path d="M379.9,950.6 L385.3,955.9" fill="none" stroke="#000" stroke-width="1.6" stroke-linecap="butt" stroke-linejoin="round"/>
<path d="M508,955.3 C512.7,956.7 527.4,961.7 536,963.7 C544.6,965.7 552.1,967.6 559.8,967.5 C567.5,967.4 575.2,965.5 582.4,963 C589.6,960.5 593.4,957.9 603,952.7 C612.6,947.6 630.6,937.2 639.9,932.1 C649.2,927 655.8,923.9 659,922.3" fill="none" stroke="#000" stroke-width="8.3"/>
<path d="M507,955 C511.8,956.5 527.2,961.6 536,963.7 C544.8,965.8 552.1,967.6 559.8,967.5 C567.5,967.4 575.2,965.5 582.4,963 C589.6,960.5 593.4,957.9 603,952.7 C612.6,947.6 630.6,937.2 639.9,932.1 C649.2,927 655.8,923.9 659,922.3" fill="none" stroke="#fff" stroke-width="4.7"/>
<ellipse cx="659" cy="922.3" rx="1.8" ry="3.3" transform="rotate(-28 659 922.3)" fill="#fff" stroke="#000" stroke-width="1.7"/>
<g transform="translate(402.4 931.7) rotate(12.7)">
<rect x="18" y="-3.7" width="12" height="7.4" fill="#fff" stroke="#000" stroke-width="1.9"/>
<rect x="25.5" y="-3.7" width="4" height="7.4" fill="#000"/>
<rect x="6" y="-8.7" width="14.5" height="17.4" rx="4" fill="#fff" stroke="#000" stroke-width="1.9"/>
<path d="M13,-8.2 L13.6,-3.5 L20,-3 M13.6,-3.5 L13.4,4 L20,4.6 M13.4,4 L12.5,8.4" stroke="#000" stroke-width="1.5" fill="none"/>
<ellipse cx="8.2" cy="0" rx="5.4" ry="8.6" fill="#fff" stroke="#000" stroke-width="1.9"/>
<ellipse cx="7.6" cy="0" rx="3.3" ry="5.2" fill="#fff" stroke="#000" stroke-width="1.7"/>
<ellipse cx="4.2" cy="0" rx="2.6" ry="4.3" fill="#fff" stroke="#000" stroke-width="1.7"/>
<ellipse cx="0" cy="0" rx="3.0" ry="3.8" fill="#fff" stroke="#000" stroke-width="1.9"/>
<ellipse cx="80" cy="0.5" rx="3.6" ry="8.6" fill="#fff" stroke="#000" stroke-width="2.6"/>
<ellipse cx="74.5" cy="0" rx="5.4" ry="8.879999999999999" fill="#fff" stroke="#000" stroke-width="1.9"/>
<ellipse cx="68" cy="0" rx="5.4" ry="9.1" fill="#fff" stroke="#000" stroke-width="1.9"/>
<ellipse cx="60.8" cy="0" rx="5.4" ry="9.319999999999999" fill="#fff" stroke="#000" stroke-width="1.9"/>
<ellipse cx="53.6" cy="0" rx="5.4" ry="9.54" fill="#fff" stroke="#000" stroke-width="1.9"/>
<ellipse cx="46.4" cy="0" rx="5.4" ry="9.76" fill="#fff" stroke="#000" stroke-width="1.9"/>
<ellipse cx="39.2" cy="0" rx="5.4" ry="9.979999999999999" fill="#fff" stroke="#000" stroke-width="1.9"/>
<ellipse cx="32" cy="0" rx="5.4" ry="10.2" fill="#fff" stroke="#000" stroke-width="1.9"/>
<ellipse cx="30.3" cy="0.3" rx="2.6" ry="6.2" fill="#fff" stroke="#000" stroke-width="1.7"/>
<rect x="84" y="-7.2" width="11" height="14.4" rx="3" fill="#fff" stroke="#000" stroke-width="1.8"/>
<path d="M89,-7.2 L89,7.2" stroke="#000" stroke-width="1.5"/>
<rect x="95" y="-4.4" width="7" height="8.8" fill="#fff" stroke="#000" stroke-width="1.8"/>
<rect x="100" y="-6.6" width="10" height="13.2" rx="2.5" fill="#fff" stroke="#000" stroke-width="1.8"/>
<path d="M103,-6 L103,6" stroke="#000" stroke-width="2.5"/>
</g>
</svg>
</body></html>
